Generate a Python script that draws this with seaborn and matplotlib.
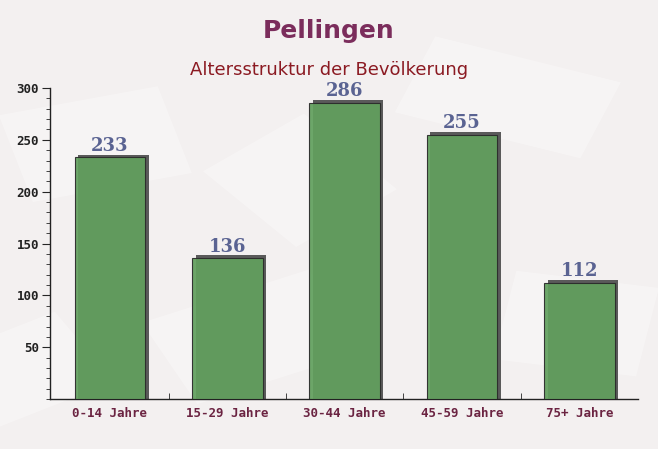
import numpy as np
import pandas as pd
import seaborn as sns
import matplotlib.pyplot as plt
from matplotlib.patches import Rectangle
from matplotlib.ticker import MultipleLocator, FixedLocator

# Data
categories = ["0-14 Jahre", "15-29 Jahre", "30-44 Jahre", "45-59 Jahre", "75+ Jahre"]
values = [233, 136, 286, 255, 112]

df = pd.DataFrame({"Alter": categories, "Einwohner": values})

sns.set_style("white")
bg = "#f3f0f0"

fig = plt.figure(figsize=(6.58, 4.49), dpi=100, facecolor=bg)
ax = fig.add_axes([0.076, 0.111, 0.894, 0.693])
ax.patch.set_visible(False)
ax.set_zorder(1)

# faint background shapes (behind the axes)
for (x, y, w, h, a) in [(0.05, 0.55, 0.25, 0.2, 15), (0.6, 0.75, 0.3, 0.18, -20),
                        (0.3, 0.1, 0.28, 0.2, 25), (0.75, 0.2, 0.22, 0.2, -10),
                        (0.0, 0.05, 0.2, 0.18, 30), (0.45, 0.45, 0.2, 0.22, 40)]:
    fig.patches.append(Rectangle((x, y), w, h, angle=a, transform=fig.transFigure,
                                 facecolor="white", alpha=0.3, edgecolor="none", zorder=-5))

sns.barplot(data=df, x="Alter", y="Einwohner", color="#62a05e", width=0.6,
            saturation=1, ax=ax, zorder=3)

# shadow + edges
for bar in ax.patches:
    x0, w, h = bar.get_x(), bar.get_width(), bar.get_height()
    ax.add_patch(Rectangle((x0 + 0.03, 0), w, h + 2.8, facecolor="#5a5a5a",
                           edgecolor="none", zorder=2))
    bar.set_edgecolor("#2a2a2a")
    bar.set_linewidth(0.8)
    bar.set_alpha(0.93)

for i, v in enumerate(values):
    ax.text(i, v + 2.5, str(v), ha="center", va="bottom", fontsize=13,
            fontweight="bold", family="DejaVu Serif", color="#5a6392", zorder=4)

ax.set_xlim(-0.51, 4.5)
ax.set_ylim(0, 300)
ax.set_xlabel("")
ax.set_ylabel("")
ax.yaxis.set_major_locator(FixedLocator([50, 100, 150, 200, 250, 300]))
ax.yaxis.set_minor_locator(MultipleLocator(10))
ax.xaxis.set_minor_locator(FixedLocator([0.5, 1.5, 2.5, 3.5]))
ax.tick_params(axis="y", which="major", length=6, direction="out", left=True, pad=2)
ax.tick_params(axis="y", which="minor", length=3, direction="out", left=True)
ax.tick_params(axis="x", which="major", length=0, pad=6)
ax.tick_params(axis="x", which="minor", length=4, direction="in", bottom=True)

for lab in ax.get_xticklabels():
    lab.set_family("DejaVu Sans Mono")
    lab.set_fontweight("bold")
    lab.set_fontsize(9)
    lab.set_color("#6b2442")
for lab in ax.get_yticklabels():
    lab.set_family("DejaVu Sans Mono")
    lab.set_fontweight("bold")
    lab.set_fontsize(9)
    lab.set_color("#222222")

sns.despine(ax=ax)
for s in ["left", "bottom"]:
    ax.spines[s].set_color("#222222")
    ax.spines[s].set_linewidth(1)

fig.text(0.5, 0.93, "Pellingen", ha="center", va="center", fontsize=18,
         fontweight="bold", color="#7b2d5c", family="DejaVu Sans")
fig.text(0.5, 0.845, "Altersstruktur der Bevölkerung", ha="center", va="center",
         fontsize=13, color="#8b1a22", family="DejaVu Sans")

fig.savefig("out.png", dpi=100, facecolor=bg)
